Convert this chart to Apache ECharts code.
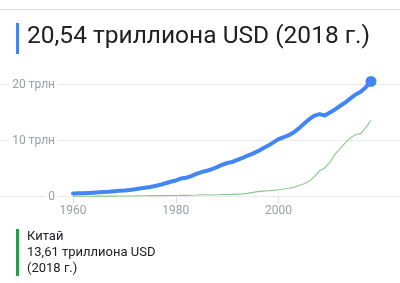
<!DOCTYPE html>
<html>
<head>
<meta charset="utf-8">
<script src="https://cdn.jsdelivr.net/npm/echarts@6/dist/echarts.min.js"></script>
<style>
html,body{margin:0;padding:0;background:#fff;}
#c{width:400px;height:283px;}
</style>
</head>
<body>
<div id="c"></div>
<script>
const years = [1960,1961,1962,1963,1964,1965,1966,1967,1968,1969,1970,1971,1972,1973,1974,1975,1976,1977,1978,1979,1980,1981,1982,1983,1984,1985,1986,1987,1988,1989,1990,1991,1992,1993,1994,1995,1996,1997,1998,1999,2000,2001,2002,2003,2004,2005,2006,2007,2008,2009,2010,2011,2012,2013,2014,2015,2016,2017,2018];
const usGdp = [0.54,0.56,0.60,0.64,0.69,0.74,0.82,0.86,0.94,1.02,1.07,1.16,1.28,1.43,1.55,1.69,1.88,2.09,2.36,2.63,2.86,3.21,3.34,3.64,4.04,4.35,4.59,4.87,5.25,5.66,5.98,6.17,6.54,6.88,7.31,7.66,8.10,8.61,9.09,9.66,10.25,10.58,10.94,11.46,12.21,13.04,13.81,14.45,14.71,14.45,14.99,15.54,16.20,16.78,17.52,18.22,18.71,19.52,20.54];
const chinaGdp = [0.06,0.05,0.047,0.051,0.059,0.070,0.076,0.072,0.070,0.079,0.093,0.100,0.114,0.139,0.144,0.163,0.154,0.175,0.149,0.178,0.191,0.196,0.205,0.230,0.260,0.309,0.301,0.273,0.312,0.348,0.361,0.383,0.427,0.445,0.564,0.734,0.864,0.962,1.029,1.094,1.211,1.339,1.471,1.660,1.955,2.286,2.752,3.550,4.594,5.102,6.087,7.552,8.532,9.570,10.475,11.062,11.233,12.310,13.608];
const yTicks = [0, 10, 20];
const xTicks = [1960, 1980, 2000];
const headline = '20,54 триллиона USD (2018 г.)';
const legendLines = ['Китай', '13,61 триллиона USD', '(2018 г.)'];

const FONT = 'Roboto, "Noto Sans", sans-serif';
const chart = echarts.init(document.getElementById('c'), null, {renderer: 'canvas'});
const toPairs = arr => years.map((y, i) => [y, arr[i]]);
const last = years.length - 1;

chart.setOption({
  animation: false,
  backgroundColor: '#fff',
  title: [
    {text: headline, left: 27, top: 24, padding: 0, textStyle: {fontFamily: FONT, fontSize: 24.5, fontWeight: 'normal', color: '#202124'}},
    {text: legendLines.join('\n'), left: 27, top: 229, padding: 0, textStyle: {fontFamily: FONT, fontSize: 13, fontWeight: 'normal', color: '#202124', lineHeight: 16}}
  ],
  graphic: [
    {type: 'line', shape: {x1: 0, y1: 9.5, x2: 400, y2: 9.5}, style: {stroke: '#dadce0', lineWidth: 1}},
    {type: 'rect', shape: {x: 16, y: 23, width: 3, height: 31}, style: {fill: '#4285f4'}},
    {type: 'rect', shape: {x: 16, y: 229, width: 3, height: 47}, style: {fill: '#2e9a4a'}}
  ],
  grid: [
    {left: 73, right: 29, top: 84.5, bottom: 86.5},
    {left: 0, right: 0, top: 84.5, bottom: 86.5}
  ],
  xAxis: [
    {type: 'value', gridIndex: 0, min: years[0], max: years[last], interval: xTicks[1] - xTicks[0],
     splitLine: {show: false}, axisLine: {show: false},
     axisTick: {show: true, length: 7, customValues: xTicks, lineStyle: {color: '#dadce0'}},
     axisLabel: {margin: 8, color: '#9aa0a6', fontFamily: FONT, fontSize: 12, customValues: xTicks,
       formatter: v => String(v)}},
    {type: 'value', gridIndex: 1, min: 0, max: 1, show: false}
  ],
  yAxis: [
    {type: 'value', gridIndex: 0, min: yTicks[0], max: yTicks[yTicks.length - 1], interval: 10, show: false, splitLine: {show: false}},
    {type: 'value', gridIndex: 1, min: yTicks[0], max: yTicks[yTicks.length - 1], interval: 10,
     axisLine: {show: false}, axisTick: {show: false},
     splitLine: {show: true, lineStyle: {color: '#ebebeb', width: 1}},
     axisLabel: {inside: true, align: 'right', margin: 58, color: '#9aa0a6', fontFamily: FONT, fontSize: 12,
       backgroundColor: '#fff', padding: [0, 3],
       formatter: v => v === 0 ? '0' : v + ' трлн'}}
  ],
  series: [
    {type: 'line', xAxisIndex: 0, yAxisIndex: 0, data: toPairs(chinaGdp), showSymbol: false, clip: false,
     lineStyle: {color: '#8cc88c', width: 1.1}, z: 3},
    {type: 'line', xAxisIndex: 0, yAxisIndex: 0, clip: false, z: 4,
     data: toPairs(usGdp).map((p, i) => i === last ? {value: p, symbol: 'circle', symbolSize: 11} : {value: p, symbol: 'none'}),
     itemStyle: {color: '#4285f4'},
     lineStyle: {color: '#4285f4', width: 4, cap: 'round', join: 'round'}}
  ]
});
</script>
</body>
</html>
